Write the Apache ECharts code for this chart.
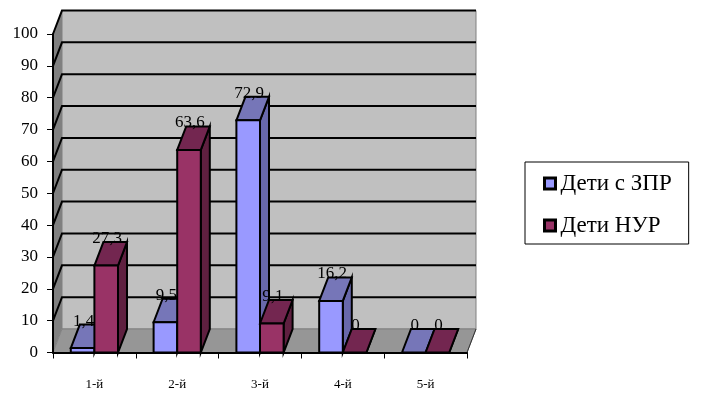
<!DOCTYPE html>
<html>
<head>
<meta charset="utf-8">
<style>
  html, body { margin: 0; padding: 0; background: #fff; }
  #chart { width: 702px; height: 400px; }
</style>
<script src="https://cdn.jsdelivr.net/npm/echarts@6/dist/echarts.min.js"></script>
</head>
<body>
<div id="chart"></div>
<script>
var categories = ["1-й", "2-й", "3-й", "4-й", "5-й"];
var zprValues = [1.4, 9.5, 72.9, 16.2, 0];
var nurValues = [27.3, 63.6, 9.1, 0, 0];
var yTicks = [0, 10, 20, 30, 40, 50, 60, 70, 80, 90, 100];

// fake 3d depth of the excel style chart, in pixels
var depthX = 9;
var depthY = 23.5;
var serifFont = '"Liberation Serif", serif';

var myChart = echarts.init(document.getElementById("chart"));

function pt(p, dx, dy) {
  return [p[0] + dx, p[1] + dy];
}

function renderWalls(params, api) {
  var x0 = api.coord([0, 0])[0] - api.size([1, 0])[0] / 2;
  var x1 = x0 + api.size([1, 0])[0] * categories.length;
  var y0 = api.coord([0, 0])[1];
  var y100 = api.coord([0, 100])[1];
  var children = [];
  // back wall
  children.push({
    type: "rect",
    shape: { x: x0 + depthX, y: y100 - depthY, width: x1 - x0, height: y0 - y100 },
    style: { fill: "#c0c0c0", stroke: "#808080", lineWidth: 1 },
  });
  // left wall
  children.push({
    type: "polygon",
    shape: {
      points: [
        [x0, y100],
        [x0 + depthX, y100 - depthY],
        [x0 + depthX, y0 - depthY],
        [x0, y0],
      ],
    },
    style: { fill: "#808080" },
  });
  // floor
  children.push({
    type: "polygon",
    shape: {
      points: [
        [x0, y0],
        [x1, y0],
        [x1 + depthX, y0 - depthY],
        [x0 + depthX, y0 - depthY],
      ],
    },
    style: { fill: "#969696", stroke: "#808080", lineWidth: 1 },
  });
  children.push({
    type: "line",
    shape: { x1: x1, y1: y0, x2: x1 + depthX, y2: y0 - depthY },
    style: { stroke: "#333", lineWidth: 1 },
  });
  // grid lines run along the left wall and the back wall
  yTicks.forEach(function (v) {
    if (v === 0) return;
    var y = api.coord([0, v])[1];
    children.push({
      type: "polyline",
      shape: {
        points: [
          [x0, y],
          [x0 + depthX, y - depthY],
          [x1 + depthX, y - depthY],
        ],
      },
      style: { fill: null, stroke: "#000", lineWidth: 2 },
    });
  });
  return { type: "group", children: children };
}

function makeBarRenderer(offset, front, top, side) {
  return function (params, api) {
    var band = api.size([1, 0])[0];
    var w = band * 0.285;
    var value = api.value(1);
    var base = api.coord([api.value(0), 0]);
    var head = api.coord([api.value(0), value]);
    var left = base[0] + offset * w;
    var a = [left, head[1]];
    var b = [left + w, head[1]];
    var c = [left + w, base[1]];
    var d = [left, base[1]];
    var lineStyle = { stroke: "#000", lineWidth: 2, lineJoin: "miter" };
    var children = [
      {
        type: "polygon",
        shape: { points: [b, pt(b, depthX, -depthY), pt(c, depthX, -depthY), c] },
        style: Object.assign({ fill: side }, lineStyle),
      },
      {
        type: "polygon",
        shape: { points: [a, pt(a, depthX, -depthY), pt(b, depthX, -depthY), b] },
        style: Object.assign({ fill: top }, lineStyle),
      },
    ];
    if (value > 0) {
      children.push({
        type: "polygon",
        shape: { points: [a, b, c, d] },
        style: Object.assign({ fill: front }, lineStyle),
      });
    }
    children.push({
      type: "text",
      style: {
        x: left + w / 2 + 1,
        y: head[1] - depthY + 5,
        text: String(value).replace(".", ","),
        fill: "#000",
        font: "17px " + serifFont,
        align: "center",
        verticalAlign: "bottom",
      },
    });
    return { type: "group", children: children };
  };
}

function toData(values) {
  return values.map(function (v, i) {
    return [i, v];
  });
}

var option = {
  animation: false,
  backgroundColor: "#fff",
  grid: { left: 53, right: 235, top: 34, bottom: 47.5 },
  legend: {
    orient: "vertical",
    left: 525,
    top: 162,
    padding: [10, 17, 7, 18],
    itemGap: 19,
    itemWidth: 11,
    itemHeight: 11,
    itemStyle: { borderColor: "#000", borderWidth: 3 },
    icon: "rect",
    borderColor: "#000",
    borderWidth: 1,
    textStyle: { color: "#000", fontFamily: serifFont, fontSize: 23 },
    data: ["Дети с ЗПР", "Дети НУР"],
  },
  xAxis: {
    type: "category",
    data: categories,
    z: 5,
    axisLine: { lineStyle: { color: "#000", width: 2 } },
    axisTick: { show: true, length: 6, alignWithLabel: false, lineStyle: { color: "#000", width: 1 } },
    axisLabel: { color: "#000", fontFamily: serifFont, fontSize: 13, margin: 26 },
    splitLine: { show: false },
  },
  yAxis: {
    type: "value",
    min: 0,
    max: 100,
    interval: 10,
    z: 5,
    axisLine: { show: true, lineStyle: { color: "#000", width: 2 } },
    axisTick: { show: true, length: 6, lineStyle: { color: "#000", width: 1 } },
    axisLabel: { color: "#000", fontFamily: serifFont, fontSize: 17, margin: 15 },
    splitLine: { show: false },
  },
  series: [
    {
      type: "custom",
      silent: true,
      z: 1,
      renderItem: renderWalls,
      data: [[0, 0]],
      encode: { x: 0, y: 1 },
    },
    {
      type: "custom",
      name: "Дети с ЗПР",
      z: 2,
      renderItem: makeBarRenderer(-1, "#9999ff", "#7676b8", "#6868ac"),
      itemStyle: { color: "#9999ff" },
      data: toData(zprValues),
      encode: { x: 0, y: 1 },
    },
    {
      type: "custom",
      name: "Дети НУР",
      z: 3,
      renderItem: makeBarRenderer(0, "#993366", "#732650", "#5f2040"),
      itemStyle: { color: "#993366" },
      data: toData(nurValues),
      encode: { x: 0, y: 1 },
    },
  ],
};

myChart.setOption(option);
</script>
</body>
</html>
